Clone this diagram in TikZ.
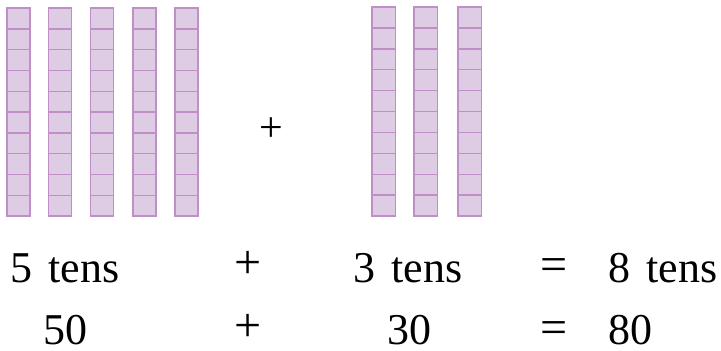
\documentclass[tikz,border=0pt]{standalone}
\usepackage{fontspec}
\setmainfont{Liberation Serif}
\definecolor{rodfill}{RGB}{221,204,228}
\definecolor{rodline}{RGB}{192,143,200}

\begin{document}
\begin{tikzpicture}[
    x=1pt, y=-1pt,
    rod/.style={fill=rodfill},
    cell/.style={draw=rodline, line width=1.4pt},
    word/.style={font=\fontsize{44}{52}\selectfont, inner sep=0pt, anchor=base west},
    sign/.style={font=\fontsize{48}{56}\selectfont, inner sep=0pt, anchor=center}
]
\useasboundingbox (0,0) rectangle (721,351);

% Left rods - 5 tens
\foreach \x in {7,48.5,90.5,133,175} {
  \fill[rod] (\x,8) rectangle ++(23,208);
  \foreach \k in {0,...,9}
    \draw[cell] (\x,8+20.8*\k) rectangle ++(23,20.8);
}

% Right rods - 3 tens
\foreach \x in {372,414,458} {
  \fill[rod] (\x,7) rectangle ++(23.5,209);
  \foreach \k in {0,...,9}
    \draw[cell] (\x,7+20.9*\k) rectangle ++(23.5,20.9);
}

% Plus between the rods
\node[font=\fontsize{42}{48}\selectfont, inner sep=0pt] (plusrods) at (271,130) {+};

% First line
\node[word] (five) at (10,282) {5\hspace{0.37em}tens};
\node[sign] (plusA) at (248,265) {+};
\node[word] (three) at (353,282) {3\hspace{0.37em}tens};
\node[sign] (eqA) at (554,270) {=};
\node[word] (eight) at (608,282) {8\hspace{0.37em}tens};

% Second line
\node[word] (fifty) at (43,344) {50};
\node[sign] (plusB) at (248,328) {+};
\node[word] (thirty) at (387,344) {30};
\node[sign] (eqB) at (554,333) {=};
\node[word] (eighty) at (608,344) {80};

\end{tikzpicture}
\end{document}
